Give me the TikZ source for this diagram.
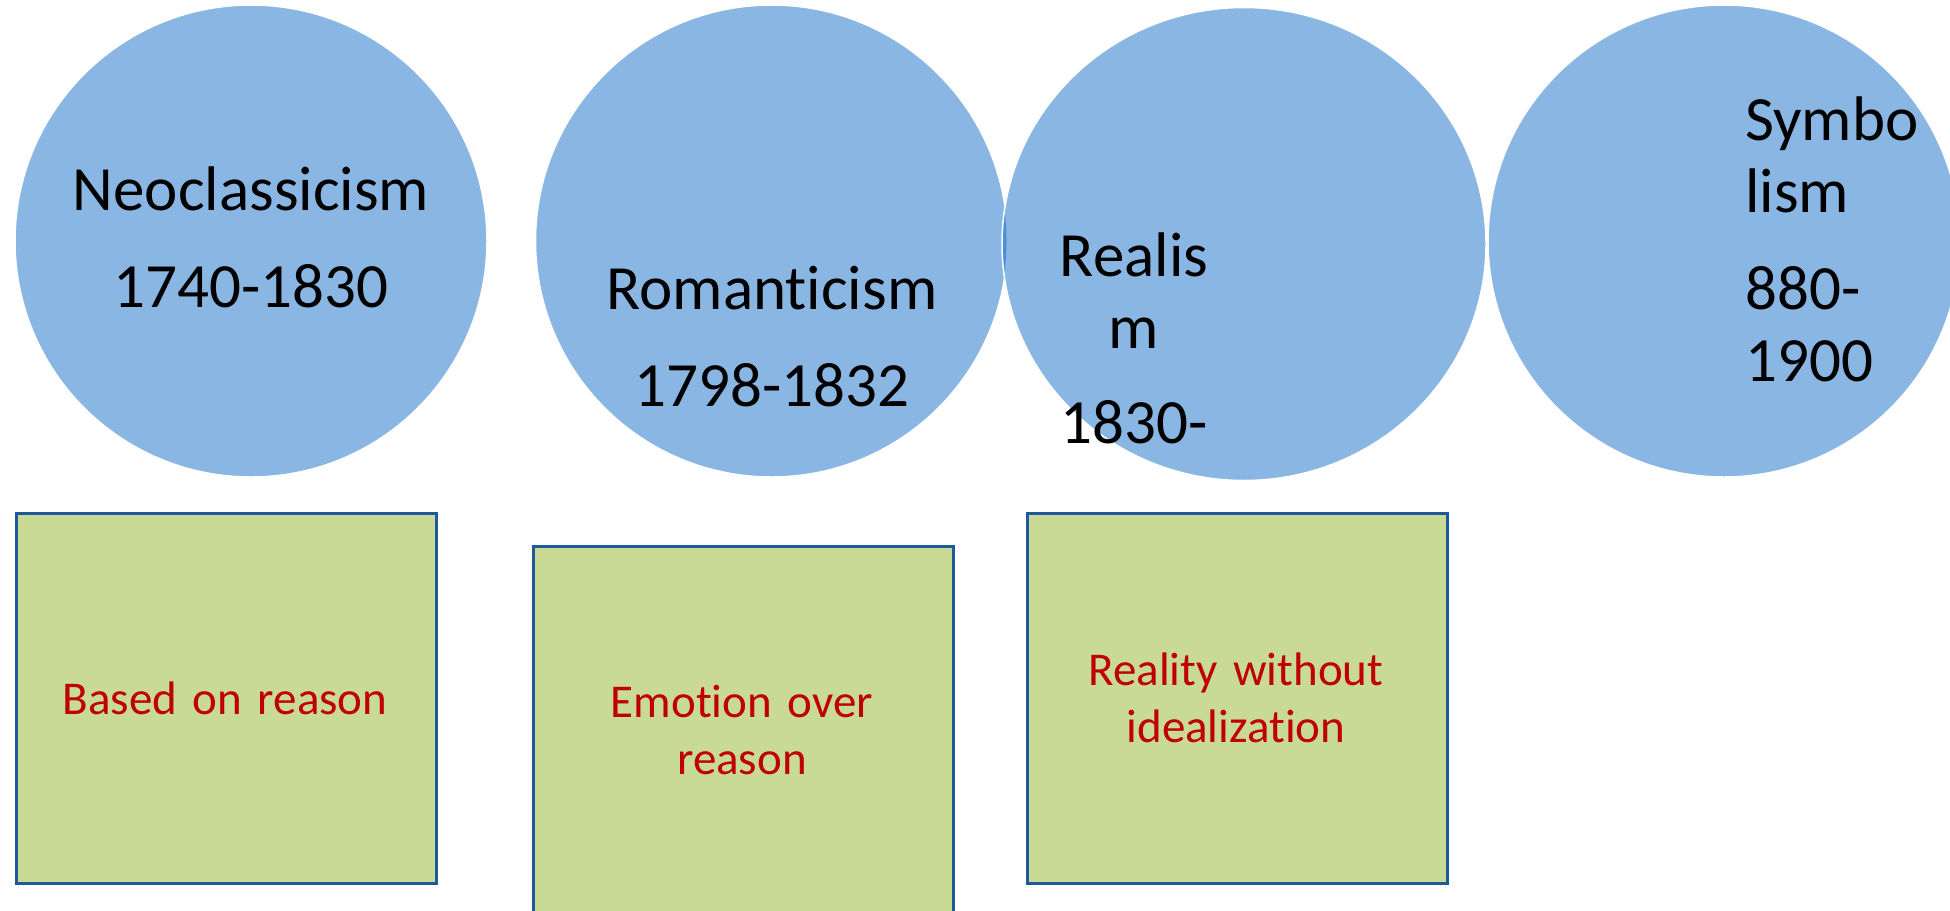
\documentclass[tikz,border=0pt]{standalone}
\usepackage{fontspec}
\setmainfont{Carlito}[Ligatures={NoCommon},RawFeature={-calt}]
\usetikzlibrary{shapes.geometric}
\definecolor{circfill}{RGB}{137,182,226}
\definecolor{lensfill}{RGB}{74,144,217}
\definecolor{boxfill}{RGB}{201,218,149}
\definecolor{boxline}{RGB}{30,90,155}
\definecolor{boxtext}{RGB}{192,0,0}
\tikzset{
  era/.style={circle, fill=circfill, draw=white, line width=1.5pt, minimum size=472pt, inner sep=0pt},
  eralabel/.style={anchor=base, text width=420pt, align=center, inner sep=0pt, font=\fontsize{63}{72}\selectfont},
  notebox/.style={rectangle, fill=boxfill, draw=boxline, line width=2.5pt, minimum width=420pt, minimum height=370pt, inner sep=0pt, anchor=north west},
  notelabel/.style={anchor=base, text width=400pt, align=center, inner sep=0pt, text=boxtext, font=\fontsize{47}{57.5}\selectfont}
}
\begin{document}
\begin{tikzpicture}[x=1pt,y=-1pt]
\useasboundingbox (0,0) rectangle (1950,910);
\clip (0,0) rectangle (1950,910);
% circles
\node[era] (c1) at (251,241) {};
\node[era] (c2) at (771.5,241) {};
\node[era, ellipse, minimum width=484pt, minimum height=473pt] (c3) at (1244,244) {};
\begin{scope}
  \clip (c2.center) circle[radius=235pt];
  \fill[lensfill] (c3.center) ellipse[x radius=241pt, y radius=235.5pt];
\end{scope}
\node[era] (c4) at (1724,241) {};
% circle labels
\node[eralabel] (t1) at (251,210) {Neoclassicism\\[25pt]1740-1830};
\node[eralabel] (t2) at (772,309) {Romanticism\\[25pt]1798-1832};
\node[eralabel] (t3) at (1134,276) {Realis\\m\\[23pt]1830-};
\node[eralabel, anchor=base west, align=left, text width=200pt] (t4) at (1745,140) {Symbo\\lism\\[25pt]880-\\1900};
% boxes
\node[notebox] (b1) at (15,512) {};
\node[notebox] (b2) at (532,545) {};
\node[notebox] (b3) at (1026,512) {};
\node[notelabel] (n1) at (225,714) {Based on reason};
\node[notelabel] (n2) at (742,717) {Emotion over\\reason};
\node[notelabel] (n3) at (1236,685) {Reality without\\idealization};
\end{tikzpicture}
\end{document}
